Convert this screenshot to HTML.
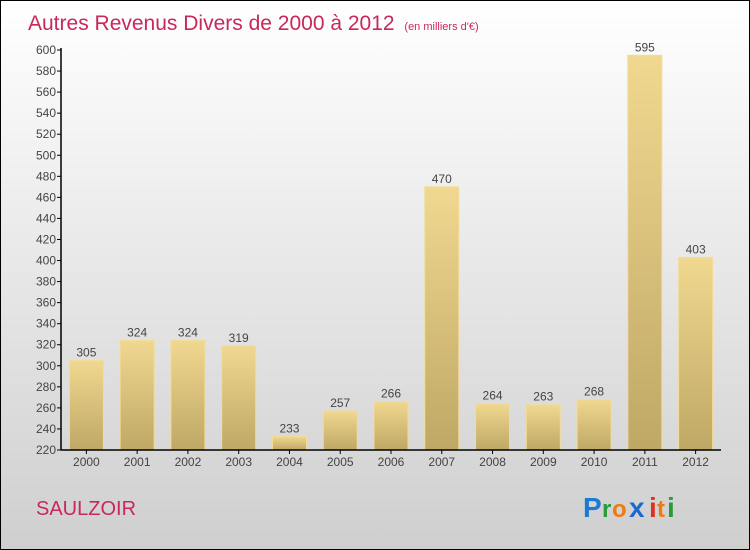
<!DOCTYPE html>
<html><head><meta charset="utf-8"><style>
body{margin:0}
#c{position:relative;width:748px;height:548px;border:1px solid #000;background:linear-gradient(#fff,#cfcfcf);font-family:"Liberation Sans",sans-serif;overflow:hidden}
</style></head><body>
<div id="c">
<svg width="748" height="548" id="s">
<defs><linearGradient id="g" x1="0" y1="0" x2="0" y2="1"><stop offset="0" stop-color="#f0d890"/><stop offset="1" stop-color="#bfa865"/></linearGradient></defs>
<text x="27" y="29" font-size="21" fill="#c8285a">Autres Revenus Divers de 2000 à 2012 <tspan font-size="11" dx="4">(en milliers d'€)</tspan></text>
<text x="35" y="514" font-size="20" fill="#c8285a">SAULZOIR</text>
<g font-size="28" font-weight="bold">
<text x="582" y="516" fill="#1a7ad6">P</text><text x="601" y="516" fill="#2a9a3a" font-size="24">r</text><text x="611" y="516" fill="#f07a10" font-size="24">o</text><text x="628" y="516" fill="#1a6ad0">x</text><text x="648" y="516" fill="#e03020">i</text><text x="656" y="516" fill="#f07a10" font-size="24">t</text><text x="666" y="516" fill="#2a9a3a">i</text></g>
<g id="plot"></g>
</svg></div>
<script>
const categories=["2000","2001","2002","2003","2004","2005","2006","2007","2008","2009","2010","2011","2012"];
const values=[305,324,324,319,233,257,266,470,264,263,268,595,403];
const ticks=[220,240,260,280,300,320,340,360,380,400,420,440,460,480,500,520,540,560,580,600];
const NS="http://www.w3.org/2000/svg";
const g=document.getElementById('plot');
const x0=60,x1=720,yTop=49,yBot=449,vmin=220,vmax=600;
const y=v=>yBot-(v-vmin)/(vmax-vmin)*(yBot-yTop);
const step=(x1-x0)/categories.length;
const xc=i=>x0+step*(i+0.5);
function mk(t,a){const e=document.createElementNS(NS,t);for(const k in a)e.setAttribute(k,a[k]);g.appendChild(e);return e;}
values.forEach((v,i)=>{
const r=mk('rect',{x:xc(i)-17,y:y(v),width:34,height:yBot-y(v),fill:'url(#g)',stroke:'#f2dc98','stroke-width':1});


const t=mk('text',{x:xc(i),y:y(v)-4,'text-anchor':'middle','font-size':12,fill:'#444'});t.textContent=v;


const l=mk('text',{x:xc(i),y:yBot+16,'text-anchor':'middle','font-size':12,fill:'#444'});l.textContent=categories[i];


mk('line',{x1:xc(i),x2:xc(i),y1:yBot,y2:yBot+4,stroke:'#000'});
});
ticks.forEach(v=>{
mk('line',{x1:x0-4,x2:x0,y1:y(v),y2:y(v),stroke:'#000'});
const t=mk('text',{x:x0-5,y:y(v)+4,'text-anchor':'end','font-size':12,fill:'#444'});t.textContent=v;


});
const ax=mk('line',{x1:x0,x2:x0,y1:yTop-2,y2:yBot,stroke:'#000','stroke-width':1.5});


const bx=mk('line',{x1:x0,x2:x1,y1:yBot,y2:yBot,stroke:'#000','stroke-width':1.5});


</script>
</body></html>
